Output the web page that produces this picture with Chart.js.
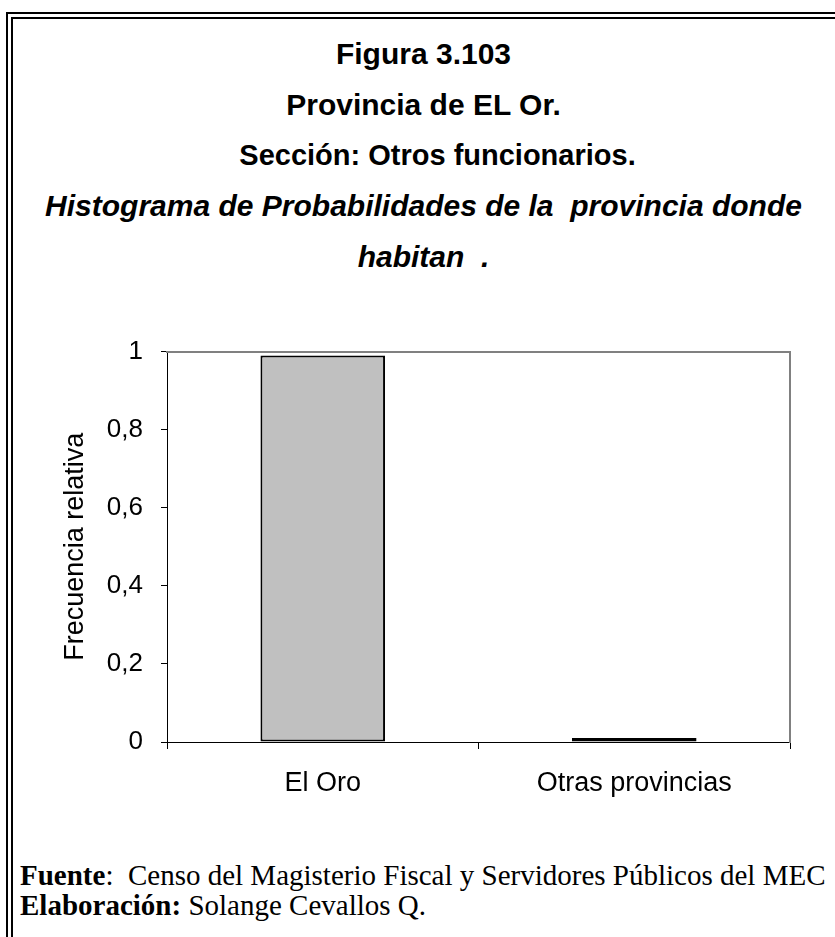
<!DOCTYPE html>
<html>
<head>
<meta charset="utf-8">
<script src="https://cdn.jsdelivr.net/npm/chart.js@4.4.1/dist/chart.umd.min.js"></script>
<style>
  html, body { margin: 0; padding: 0; background: #fff; overflow: hidden; }
  body { width: 835px; height: 937px; position: relative; font-family: "Liberation Sans", Arial, sans-serif; }
  .frame { position: absolute; left: 6px; top: 12px; width: 1000px; height: 1000px; border: 2px solid #000; }
  .frame-in { position: absolute; left: 3px; top: 3px; right: 3px; bottom: 3px; border: 2px solid #000; }
  .t { position: absolute; left: 6px; width: 835px; text-align: center; font-weight: bold; font-size: 30px; line-height: 34px; white-space: nowrap; }
  .t.i { font-style: italic; }
  .foot { position: absolute; left: 20px; font-family: "Liberation Serif", "Times New Roman", serif; font-size: 29px; line-height: 30px; white-space: nowrap; }
  #wrap { position: absolute; left: 20px; top: 318px; width: 780px; height: 480px; }
</style>
</head>
<body>
<div class="frame"><div class="frame-in"></div></div>
<div class="t" style="top:37px">Figura 3.103</div>
<div class="t" style="top:88px">Provincia de EL Or.</div>
<div class="t" style="top:138px; left:20px; font-size:29px">Sección: Otros funcionarios.</div>
<div class="t i" style="top:189px">Histograma de Probabilidades de la&nbsp; provincia donde</div>
<div class="t i" style="top:240px">habitan&nbsp; .</div>
<div id="wrap"><canvas id="chart"></canvas></div>
<div class="foot" style="top:860px"><b>Fuente</b>:&nbsp; Censo del Magisterio Fiscal y Servidores Públicos del MEC</div>
<div class="foot" style="top:890px"><b>Elaboración:</b> Solange Cevallos Q.</div>
<script>
const categories = ['El Oro', 'Otras provincias'];
const frecuencia = [0.99, 0.01];
const yTicks = [0, 0.2, 0.4, 0.6, 0.8, 1];

const fam = '"Liberation Sans", Arial, sans-serif';

new Chart(document.getElementById('chart'), {
  type: 'bar',
  data: {
    labels: categories,
    datasets: [{
      data: frecuencia,
      backgroundColor: '#c0c0c0',
      borderColor: '#000',
      borderWidth: 2,
      borderSkipped: false,
      barPercentage: 0.4,
      categoryPercentage: 1
    }]
  },
  options: {
    responsive: true,
    maintainAspectRatio: false,
    animation: false,
    layout: { padding: { top: 5, right: 10 } },
    plugins: { legend: { display: false }, tooltip: { enabled: false } },
    scales: {
      x: {
        offset: true,
        grid: { offset: true, drawOnChartArea: false, tickLength: 7, color: '#000', lineWidth: 1 },
        border: { color: '#000', width: 1 },
        ticks: { color: '#000', font: { family: fam, size: 27 }, padding: 18, maxRotation: 0 },
        afterFit: (a) => { a.height = 56; }
      },
      y: {
        min: 0,
        max: 1,
        afterBuildTicks: (a) => { a.ticks = yTicks.map(v => ({ value: v })); },
        grid: { drawOnChartArea: false, tickLength: 6, color: '#000' },
        border: { color: '#000', width: 1 },
        ticks: {
          color: '#000', font: { family: fam, size: 26 }, padding: 18,
          callback: (v) => String(v).replace('.', ',')
        },
        title: { display: true, text: 'Frecuencia relativa', color: '#000', font: { family: fam, size: 27 }, padding: { top: 39, bottom: 0 } },
        afterFit: (a) => { a.width = 147; }
      },
      x2: {
        position: 'top',
        grid: { display: false },
        border: { color: '#808080', width: 2 },
        ticks: { display: false },
        afterFit: (a) => { a.height = 0; }
      },
      y2: {
        position: 'right',
        grid: { display: false },
        border: { color: '#808080', width: 2 },
        ticks: { display: false },
        afterFit: (a) => { a.width = 0; }
      }
    }
  }
});
</script>
</body>
</html>
